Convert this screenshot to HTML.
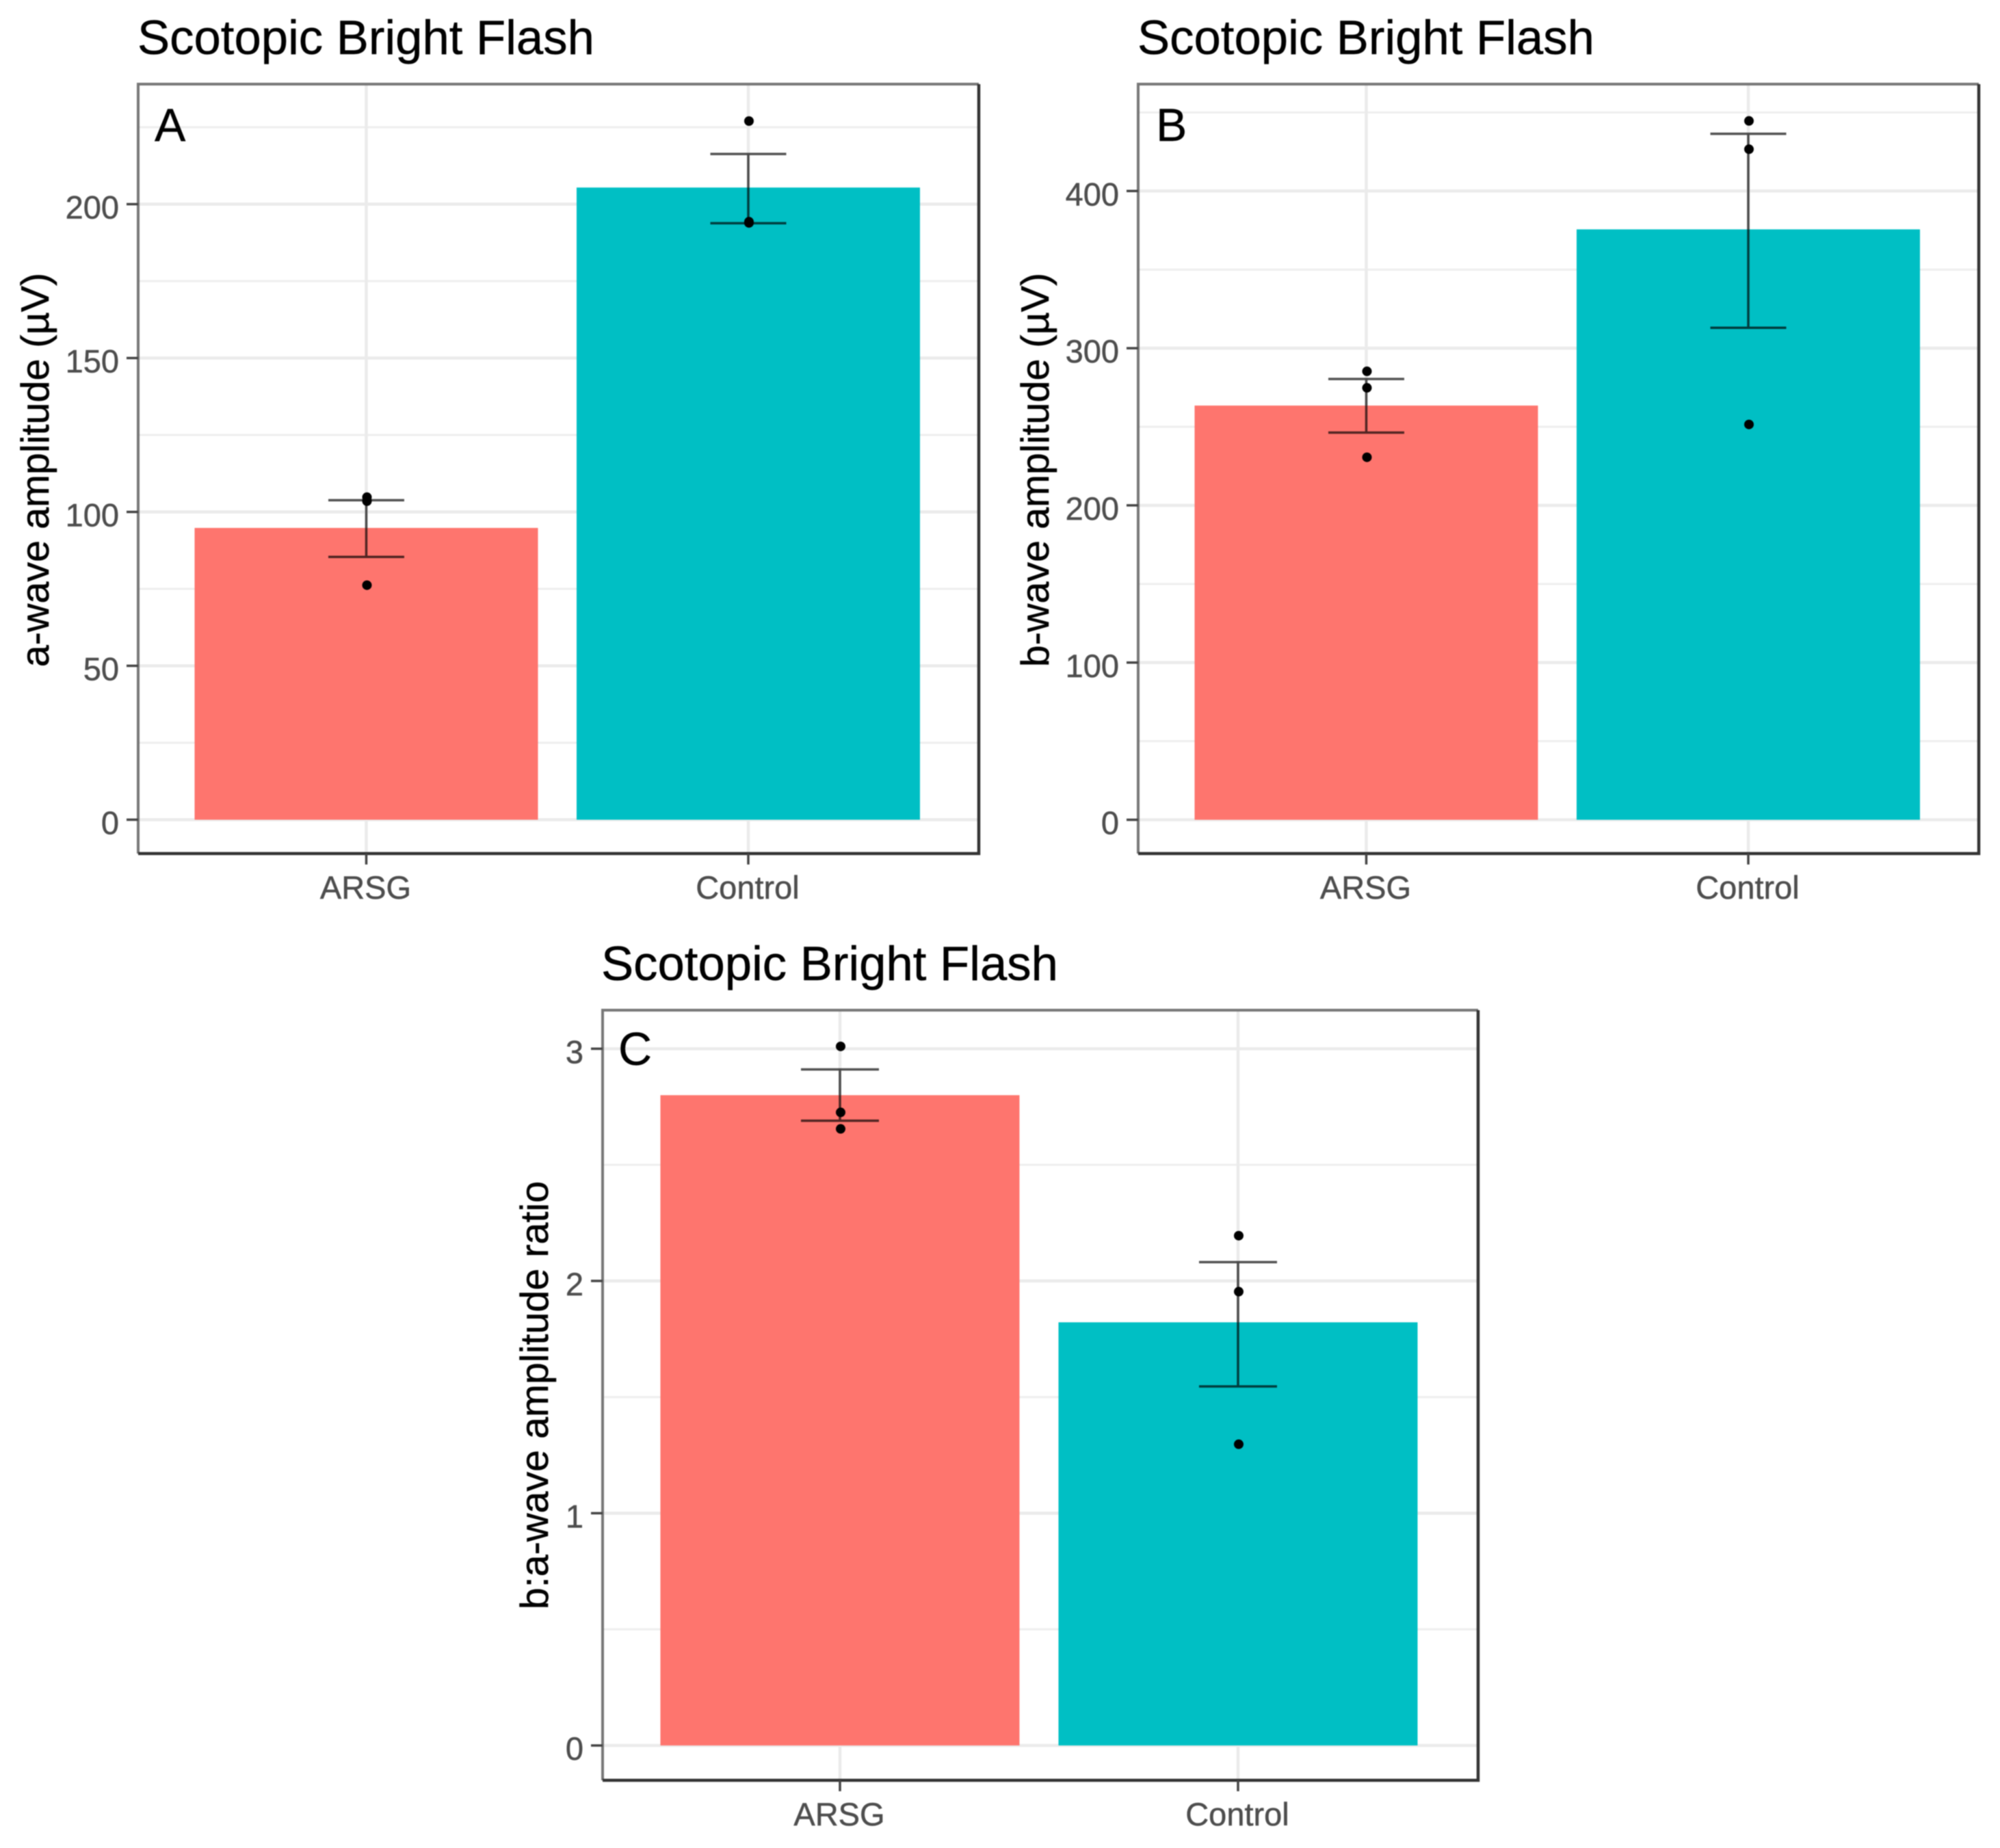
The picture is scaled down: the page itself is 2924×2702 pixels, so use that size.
<!DOCTYPE html>
<html lang="en">
<head>
<meta charset="utf-8">
<title>Scotopic Bright Flash</title>
<style>
html,body{margin:0;padding:0;background:#fff;}
body{width:2924px;height:2702px;overflow:hidden;}
svg{display:block;filter:blur(0.9px);}
text{font-family:"Liberation Sans",Arial,sans-serif;}
.title{font-size:70.7px;fill:#000;stroke:#000;stroke-width:0.5px;}
.ytitle{font-size:57.5px;fill:#000;stroke:#000;stroke-width:0.5px;}
.letter{font-size:68px;fill:#000;stroke:#000;stroke-width:0.4px;}
.tick{font-size:47px;fill:#4d4d4d;stroke:#4d4d4d;stroke-width:0.5px;}
</style>
</head>
<body>
<svg id="figure" width="2924" height="2702" viewBox="0 0 2924 2702" xmlns="http://www.w3.org/2000/svg">
  <rect width="2924" height="2702" fill="#fff"/>

  <g id="panel-a">
    <g id="marks-a"></g>
    <text class="title" x="201" y="79">Scotopic Bright Flash</text>
    <text class="ytitle" transform="translate(71,687) rotate(-90)" text-anchor="middle">a-wave amplitude (µV)</text>
    <text class="letter" x="226" y="206">A</text>
  </g>

  <g id="panel-b">
    <g id="marks-b"></g>
    <text class="title" x="1663" y="79">Scotopic Bright Flash</text>
    <text class="ytitle" transform="translate(1533,687) rotate(-90)" text-anchor="middle">b-wave amplitude (µV)</text>
    <text class="letter" x="1690" y="206">B</text>
  </g>

  <g id="panel-c">
    <g id="marks-c"></g>
    <text class="title" x="879" y="1433">Scotopic Bright Flash</text>
    <text class="ytitle" transform="translate(801,2040) rotate(-90)" text-anchor="middle">b:a-wave amplitude ratio</text>
    <text class="letter" x="904" y="1557">C</text>
  </g>
</svg>

<script>
// Shared categories
const categories = ['ARSG', 'Control'];

// Panel A values (a-wave amplitude, µV)
const aMeans = [94.8, 205.4];
const aErrLow = [85.4, 193.8];
const aErrHigh = [103.8, 216.3];
const aPointsArsg = [104.8, 103.5, 76.2];
const aPointsControl = [227, 194.3, 193.9];
const aTicks = [0, 50, 100, 150, 200];
const aMinorTicks = [25, 75, 125, 175, 225];

// Panel B values (b-wave amplitude, µV)
const bMeans = [263.5, 375.6];
const bErrLow = [246.3, 313];
const bErrHigh = [280.4, 436.4];
const bPointsArsg = [285.3, 274.8, 230.6];
const bPointsControl = [444.6, 426.6, 251.5];
const bTicks = [0, 100, 200, 300, 400];
const bMinorTicks = [50, 150, 250, 350, 450];

// Panel C values (b:a-wave amplitude ratio)
const cMeans = [2.80, 1.822];
const cErrLow = [2.69, 1.546];
const cErrHigh = [2.911, 2.081];
const cPointsArsg = [3.01, 2.726, 2.655];
const cPointsControl = [2.195, 1.954, 1.297];
const cTicks = [0, 1, 2, 3];
const cMinorTicks = [0.5, 1.5, 2.5];

const barColors = ['#fe756e', '#00bfc4'];
const NS = 'http://www.w3.org/2000/svg';

function add(parent, tag, attrs) {
  const el = document.createElementNS(NS, tag);
  for (const k in attrs) el.setAttribute(k, attrs[k]);
  parent.appendChild(el);
  return el;
}

function drawPanel(cfg) {
  const g = document.getElementById(cfg.target);
  const y = v => cfg.bottom - (v - cfg.yMin) * (cfg.bottom - cfg.top) / (cfg.yMax - cfg.yMin);
  const x = i => cfg.x0 + i * cfg.step;

  // minor horizontal gridlines
  cfg.minor.forEach(v => {
    const el = add(g, 'line', {x1: cfg.left, x2: cfg.right, y1: y(v), y2: y(v), stroke: '#eeeeee', 'stroke-width': 3});
    
    
  });
  // major horizontal gridlines
  cfg.ticks.forEach(v => {
    const el = add(g, 'line', {x1: cfg.left, x2: cfg.right, y1: y(v), y2: y(v), stroke: '#ebebeb', 'stroke-width': 4.5});
    
    
  });
  // vertical gridlines
  cfg.cats.forEach((c, i) => {
    const el = add(g, 'line', {x1: x(i), x2: x(i), y1: cfg.top, y2: cfg.bottom, stroke: '#ebebeb', 'stroke-width': 4.5});
    
    
  });
  // bars
  cfg.cats.forEach((c, i) => {
    const el = add(g, 'rect', {x: x(i) - cfg.half, width: cfg.half * 2, y: y(cfg.means[i]), height: y(0) - y(cfg.means[i]), fill: barColors[i]});
    
    
  });
  // error bars
  cfg.cats.forEach((c, i) => {
    const eg = add(g, 'g', {stroke: '#000', 'stroke-width': 3.5, opacity: 0.68});
    
    
    add(eg, 'line', {x1: x(i), x2: x(i), y1: y(cfg.errHigh[i]), y2: y(cfg.errLow[i])});
    add(eg, 'line', {x1: x(i) - cfg.cap, x2: x(i) + cfg.cap, y1: y(cfg.errHigh[i]), y2: y(cfg.errHigh[i])});
    add(eg, 'line', {x1: x(i) - cfg.cap, x2: x(i) + cfg.cap, y1: y(cfg.errLow[i]), y2: y(cfg.errLow[i])});
  });
  // points
  cfg.points.forEach((series, i) => {
    series.forEach(v => {
      const el = add(g, 'circle', {cx: x(i) + 1, cy: y(v), r: 7, fill: '#000'});
      
      
    });
  });
  // panel border: top and left read lighter than bottom and right in the source
  const b1 = add(g, 'path', {d: `M${cfg.left} ${cfg.bottom}V${cfg.top}H${cfg.right}`, fill: 'none', stroke: '#777777', 'stroke-width': 4});
  
  
  const b2 = add(g, 'path', {d: `M${cfg.left} ${cfg.bottom}H${cfg.right}V${cfg.top}`, fill: 'none', stroke: '#333333', 'stroke-width': 4.5});
  
  
  // y axis ticks and labels
  cfg.ticks.forEach(v => {
    const t = add(g, 'line', {x1: cfg.left - 17, x2: cfg.left, y1: y(v), y2: y(v), stroke: '#444', 'stroke-width': 3.5});
    
    
    const l = add(g, 'text', {class: 'tick', x: cfg.left - 28, y: y(v) + 21, 'text-anchor': 'end'});
    
    
    l.textContent = String(v);
  });
  // x axis ticks and labels
  cfg.cats.forEach((c, i) => {
    const t = add(g, 'line', {x1: x(i), x2: x(i), y1: cfg.bottom, y2: cfg.bottom + 16, stroke: '#444', 'stroke-width': 3.5});
    
    
    const l = add(g, 'text', {class: 'tick', x: x(i) - 1, y: cfg.bottom + 66, 'text-anchor': 'middle'});
    
    
    l.textContent = c;
  });
}

drawPanel({target: 'marks-a', left: 202, right: 1431, top: 123, bottom: 1248, yMin: -11, yMax: 239,
  x0: 535.5, step: 558.5, half: 251, cap: 55.5, cats: categories, means: aMeans, errLow: aErrLow, errHigh: aErrHigh,
  points: [aPointsArsg, aPointsControl], ticks: aTicks, minor: aMinorTicks});

drawPanel({target: 'marks-b', left: 1664, right: 2893, top: 123, bottom: 1248, yMin: -21.5, yMax: 468,
  x0: 1997.5, step: 558.5, half: 251, cap: 55.5, cats: categories, means: bMeans, errLow: bErrLow, errHigh: bErrHigh,
  points: [bPointsArsg, bPointsControl], ticks: bTicks, minor: bMinorTicks});

drawPanel({target: 'marks-c', left: 881, right: 2161, top: 1477, bottom: 2603, yMin: -0.15, yMax: 3.166,
  x0: 1228, step: 582, half: 262.5, cap: 57, cats: categories, means: cMeans, errLow: cErrLow, errHigh: cErrHigh,
  points: [cPointsArsg, cPointsControl], ticks: cTicks, minor: cMinorTicks});
</script>
</body>
</html>
